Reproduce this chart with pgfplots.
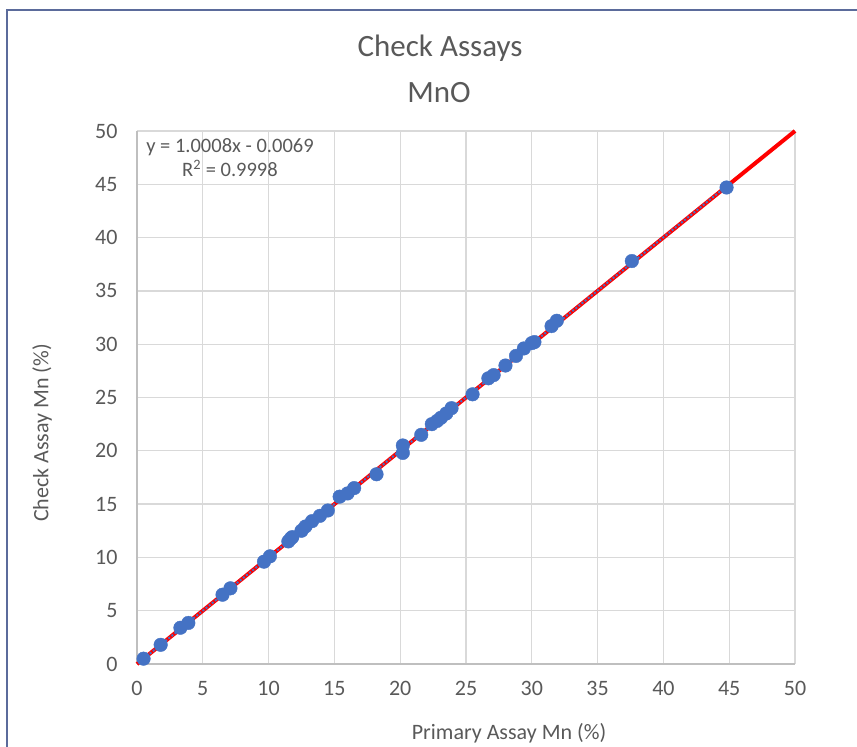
\documentclass[border=0pt]{standalone}
\usepackage{pgfplots}
\pgfplotsset{compat=1.18}
\usepackage{fontspec}
\setmainfont{Carlito}
\definecolor{txt}{HTML}{595959}
\definecolor{grd}{HTML}{D9D9D9}
\definecolor{axl}{HTML}{BFBFBF}
\definecolor{mblue}{HTML}{4472C4}
\definecolor{frame}{HTML}{5B6B9B}
\begin{document}
\begin{tikzpicture}[x=1pt,y=1pt]
\useasboundingbox (-137,-83) rectangle (720,664);
\draw[frame, line width=1.8pt] (-130,-90) -- (-130,654) -- (730,654);
\begin{axis}[
  at={(0,0)}, anchor=south west,
  scale only axis, width=658pt, height=533pt,
  xmin=0, xmax=50, ymin=0, ymax=50,
  xtick={0,5,...,50}, ytick={0,5,...,50},
  grid=major,
  major grid style={grd, line width=1.3pt},
  axis x line*=bottom, axis y line*=left,
  axis line style={axl, line width=1.5pt},
  major tick length=0pt,
  tick label style={font=\fontsize{22}{26}\selectfont, text=txt},
  /pgf/number format/assume math mode=true,
  xticklabel style={yshift=-14pt},
  yticklabel style={xshift=-16pt},
  clip=false,
]
\addplot[red, line width=4pt] coordinates {(0,0) (50,50)};
\addplot[mblue, line width=2pt, dotted] coordinates {(0.5,0.4935) (44.8,44.829)};
\addplot[only marks, mark=*, mark size=6.8pt, mark options={fill=mblue, draw=mblue}] coordinates {
(0.5,0.5) (1.8,1.8) (3.3,3.4) (3.9,3.85) (6.5,6.5) (7.1,7.1)
(9.65,9.6) (10.1,10.1) (11.5,11.5) (11.7,11.8) (11.8,11.9)
(12.5,12.5) (12.8,12.9) (13.3,13.4) (13.9,13.9) (14.5,14.4)
(15.4,15.7) (16.0,16.0) (16.5,16.5) (18.2,17.8)
(20.2,19.8) (20.2,20.5) (21.6,21.5) (22.4,22.5) (22.8,22.8)
(23.1,23.1) (23.5,23.5) (23.9,24.0) (25.5,25.3) (26.7,26.8)
(27.1,27.1) (28.0,28.0) (28.8,28.9) (29.4,29.6) (30.0,30.1)
(30.2,30.2) (31.5,31.7) (31.9,32.2) (37.6,37.8) (44.8,44.7)
};
\end{axis}
\node[anchor=base, text=txt, font=\fontsize{31}{34}\selectfont] at (303,607) {Check Assays};
\node[anchor=base, text=txt, font=\fontsize{31}{34}\selectfont] at (302,561) {MnO};
\node[anchor=base, text=txt, font=\fontsize{20.5}{24}\selectfont] at (93,511) {y = 1.0008x - 0.0069};
\node[anchor=base, text=txt, font=\fontsize{20.5}{24}\selectfont] at (93,487) {R\textsuperscript{2} = 0.9998};
\node[text=txt, font=\fontsize{22}{26}\selectfont, rotate=90] at (-95,231) {Check Assay Mn (\%)};
\node[text=txt, font=\fontsize{22}{26}\selectfont] at (372,-69) {Primary Assay Mn (\%)};
\end{tikzpicture}
\end{document}
